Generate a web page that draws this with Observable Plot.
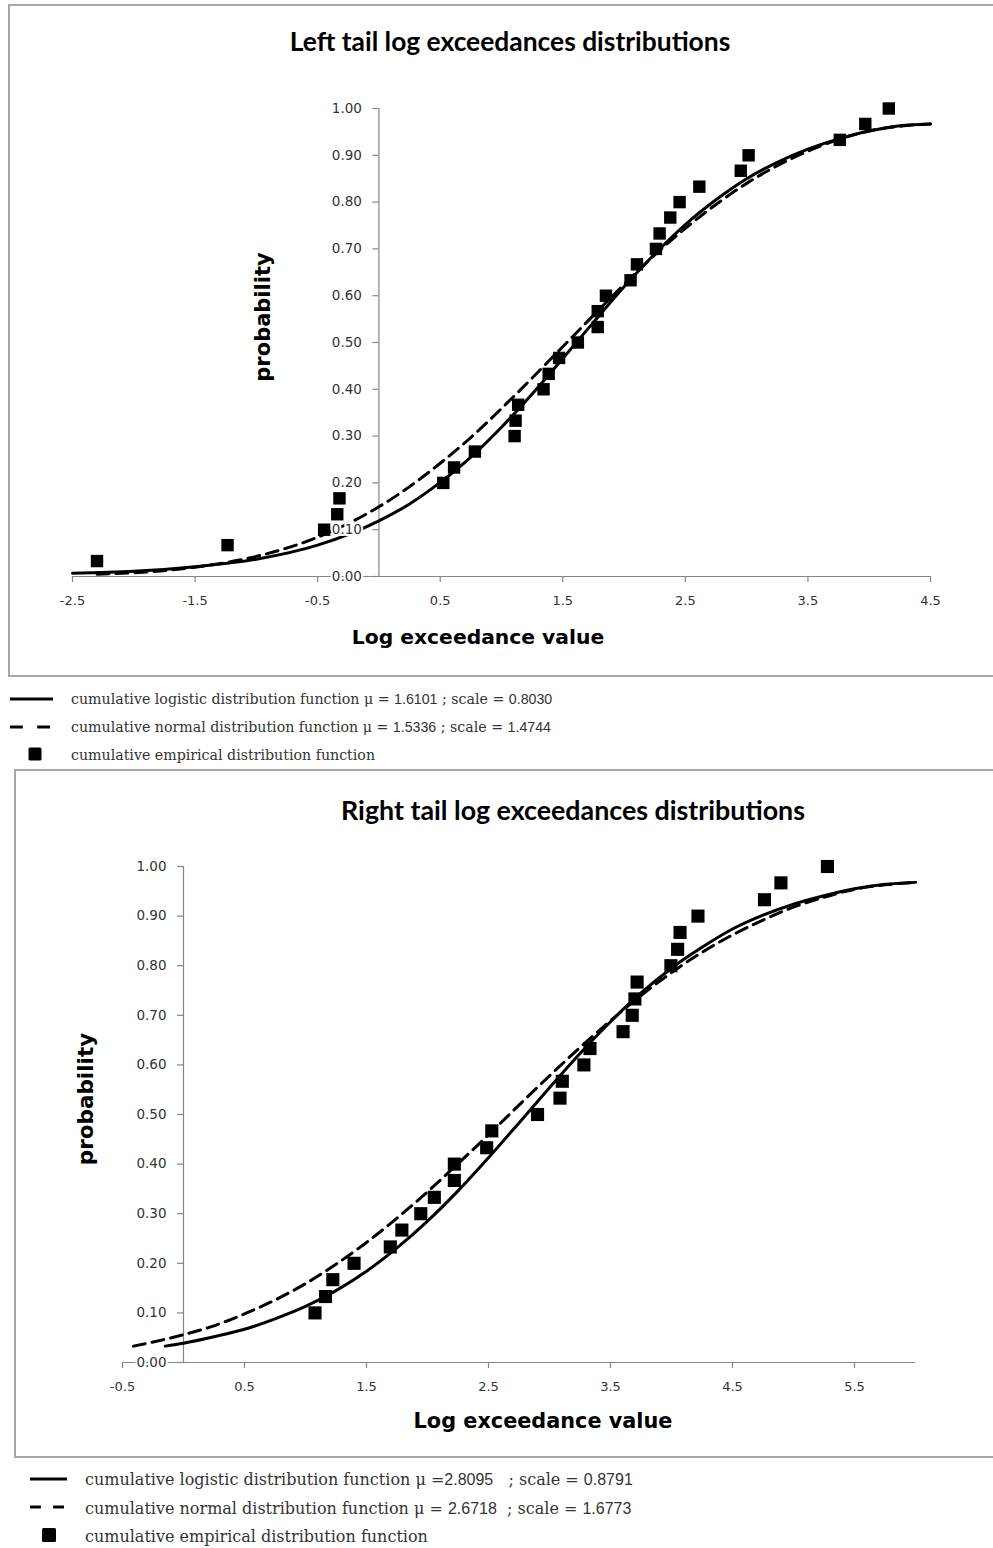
<!DOCTYPE html>
<html>
<head>
<meta charset="utf-8">
<script src="https://cdn.jsdelivr.net/npm/d3@7"></script>
<script src="https://cdn.jsdelivr.net/npm/@observablehq/plot@0.6"></script>
<style>
  html, body { margin: 0; padding: 0; background: #fff; }
  #wrap { position: relative; width: 993px; height: 1548px; overflow: hidden; background: #fff; }
  .plot { position: absolute; left: 0; }
  .box { position: absolute; border: 2px solid #a8a8a8; border-right: none; box-sizing: border-box; }
  .title { position: absolute; transform: translate(-50%, -50%); font-family: Lato, "Open Sans", sans-serif; font-weight: 700; color: #000; white-space: nowrap; line-height: 1; }
  .axlab { position: absolute; transform: translate(-50%, -50%); font-family: "DejaVu Sans", Verdana, sans-serif; font-weight: 700; color: #000; white-space: nowrap; line-height: 1; }
  .ylab { transform: translate(-50%, -50%) rotate(-90deg); }
  .leg { position: absolute; transform: translateY(-50%); font-family: "DejaVu Serif", serif; color: #333; white-space: pre; line-height: 1; }
  .leg .n { font-family: "Liberation Sans", Arial, sans-serif; }
  .sym { position: absolute; }
</style>
</head>
<body>
<div id="wrap"></div>
<script>
// ---------------- data ----------------
const probTicks = [0.00, 0.10, 0.20, 0.30, 0.40, 0.50, 0.60, 0.70, 0.80, 0.90, 1.00];
const leftTicksX = [-2.5, -1.5, -0.5, 0.5, 1.5, 2.5, 3.5, 4.5];
const rightTicksX = [-0.5, 0.5, 1.5, 2.5, 3.5, 4.5, 5.5];

// Left tail: empirical CDF points
const leftEmpX = [-2.30, -1.235, -0.447, -0.340, -0.322, 0.525, 0.613, 0.783, 1.107, 1.115,
  1.136, 1.343, 1.385, 1.470, 1.623, 1.785, 1.785, 1.852, 2.053, 2.105,
  2.260, 2.290, 2.377, 2.453, 2.614, 2.952, 3.016, 3.760, 3.968, 4.160];
const leftEmpP = [0.033, 0.067, 0.100, 0.133, 0.167, 0.200, 0.233, 0.267, 0.300, 0.333,
  0.367, 0.400, 0.433, 0.467, 0.500, 0.533, 0.567, 0.600, 0.633, 0.667,
  0.700, 0.733, 0.767, 0.800, 0.833, 0.867, 0.900, 0.933, 0.967, 1.000];

// Left tail: logistic curve (solid)
const leftLogX = [-2.5, -2, -1.5, -1, -0.5, 0, 0.25, 0.5, 0.75, 1, 1.25, 1.5, 1.75, 2, 2.25, 2.5, 2.75, 3, 3.25, 3.5, 3.75, 4, 4.25, 4.5];
const leftLogP = [0.007, 0.011, 0.021, 0.037, 0.067, 0.119, 0.155, 0.201, 0.255, 0.319, 0.390, 0.466, 0.543, 0.619, 0.689, 0.752, 0.805, 0.850, 0.885, 0.913, 0.935, 0.952, 0.963, 0.967];
// Left tail: normal curve (dashed)
const leftNormX = [-2.3, -2, -1.5, -1, -0.5, 0, 0.25, 0.5, 0.75, 1, 1.25, 1.5, 1.75, 2, 2.25, 2.5, 2.75, 3, 3.25, 3.5, 3.75, 4, 4.25, 4.5];
const leftNormP = [0.005, 0.008, 0.020, 0.043, 0.084, 0.149, 0.192, 0.242, 0.297, 0.359, 0.424, 0.491, 0.558, 0.624, 0.687, 0.744, 0.795, 0.840, 0.878, 0.909, 0.934, 0.952, 0.962, 0.967];

// Right tail: empirical CDF points
const rightEmpX = [1.078, 1.164, 1.224, 1.398, 1.695, 1.790, 1.945, 2.056, 2.220, 2.220,
  2.485, 2.527, 2.902, 3.086, 3.105, 3.282, 3.332, 3.603, 3.678, 3.700,
  3.718, 3.995, 4.050, 4.070, 4.217, 4.762, 4.897, 5.278];
const rightEmpP = [0.100, 0.133, 0.167, 0.200, 0.233, 0.267, 0.300, 0.333, 0.367, 0.400,
  0.433, 0.467, 0.500, 0.533, 0.567, 0.600, 0.633, 0.667, 0.700, 0.733,
  0.767, 0.800, 0.833, 0.867, 0.900, 0.933, 0.967, 1.000];

// Right tail: logistic curve (solid)
const rightLogX = [-0.15, 0, 0.25, 0.5, 0.75, 1, 1.25, 1.5, 1.75, 2, 2.25, 2.5, 2.75, 3, 3.25, 3.5, 3.75, 4, 4.25, 4.5, 4.75, 5, 5.25, 5.5, 5.75, 6];
const rightLogP = [0.033, 0.039, 0.052, 0.067, 0.088, 0.113, 0.145, 0.184, 0.231, 0.285, 0.346, 0.413, 0.483, 0.554, 0.623, 0.687, 0.745, 0.795, 0.837, 0.874, 0.902, 0.924, 0.941, 0.955, 0.964, 0.968];
// Right tail: normal curve (dashed)
const rightNormX = [-0.41, 0, 0.25, 0.5, 0.75, 1, 1.25, 1.5, 1.75, 2, 2.25, 2.5, 2.75, 3, 3.25, 3.5, 3.75, 4, 4.25, 4.5, 4.75, 5, 5.25, 5.5, 5.75, 6];
const rightNormP = [0.033, 0.056, 0.074, 0.098, 0.126, 0.159, 0.198, 0.242, 0.291, 0.344, 0.401, 0.459, 0.519, 0.578, 0.635, 0.689, 0.740, 0.786, 0.827, 0.862, 0.892, 0.918, 0.938, 0.954, 0.963, 0.968];

// ---------------- helpers ----------------
const zip = (xs, ps) => xs.map((x, i) => ({x, p: ps[i]}));
const AX = "#868686";

function chart({xDomain, xTicks, emp, logi, norm, width, height, mt, mb, ml, mr, r}) {
  return Plot.plot({
    width, height,
    marginTop: mt, marginBottom: mb, marginLeft: ml, marginRight: mr,
    style: {background: "transparent"},
    x: {domain: xDomain, axis: null},
    y: {domain: [0, 1], axis: null},
    marks: [
      Plot.ruleY([0], {stroke: AX, strokeWidth: 1.2}),
      Plot.ruleX([0], {stroke: AX, strokeWidth: 1.2}),
      Plot.ruleX(xTicks, {x: d => d, y1: 0, y2: 0, insetBottom: -6, stroke: AX, strokeWidth: 1.2}),
      Plot.ruleY(probTicks, {y: d => d, x1: 0, x2: 0, insetLeft: -6, stroke: AX, strokeWidth: 1.2}),
      Plot.line(norm, {x: "x", y: "p", stroke: "#000", strokeWidth: 3, strokeDasharray: "12,7", curve: "monotone-x"}),
      Plot.line(logi, {x: "x", y: "p", stroke: "#000", strokeWidth: 3, curve: "monotone-x"}),
      Plot.text(xTicks, {x: d => d, y: 0, text: d => d.toFixed(1), dy: 24, fontSize: 13, fontFamily: "DejaVu Sans", fill: "#333"}),
      Plot.text(probTicks, {x: 0, y: d => d, text: d => d.toFixed(2), textAnchor: "end", dx: -17, fontSize: 13.5, fontFamily: "DejaVu Sans", fill: "#333", stroke: "white", strokeWidth: 4, paintOrder: "stroke"}),
      Plot.dot(emp, {x: "x", y: "p", symbol: "square", r, fill: "#000", stroke: null})
    ]
  });
}

const wrap = document.getElementById("wrap");

// top chart: SVG at top 0
const topSvg = chart({
  xDomain: [-2.5, 4.5], xTicks: leftTicksX,
  emp: zip(leftEmpX, leftEmpP), logi: zip(leftLogX, leftLogP), norm: zip(leftNormX, leftNormP),
  width: 993, height: 690, mt: 108, mb: 114, ml: 72, mr: 63, r: 7.0
});
topSvg.classList.add("plot");
topSvg.style.top = "0px";
wrap.appendChild(topSvg);

// bottom chart: SVG at top 760
const botSvg = chart({
  xDomain: [-0.5, 6.0], xTicks: rightTicksX,
  emp: zip(rightEmpX, rightEmpP), logi: zip(rightLogX, rightLogP), norm: zip(rightNormX, rightNormP),
  width: 993, height: 700, mt: 106, mb: 98, ml: 122, mr: 78, r: 7.4
});
botSvg.classList.add("plot");
botSvg.style.top = "760px";
wrap.appendChild(botSvg);

// ---------------- text, boxes, legends ----------------
function el(tag, cls, css, html) {
  const e = document.createElement(tag);
  if (cls) e.className = cls;
  Object.assign(e.style, css);
  if (html != null) e.innerHTML = html;
  wrap.appendChild(e);
  return e;
}

el("div", "box", {left: "8px", top: "4px", width: "1000px", height: "673px"});
el("div", "box", {left: "14px", top: "769px", width: "1000px", height: "689px"});

el("div", "title", {left: "510px", top: "41px", fontSize: "26.4px"}, "Left tail log exceedances distributions");
el("div", "title", {left: "573px", top: "810px", fontSize: "26.8px"}, "Right tail log exceedances distributions");

el("div", "axlab ylab", {left: "263px", top: "317px", fontSize: "21px"}, "probability");
el("div", "axlab ylab", {left: "86px", top: "1099px", fontSize: "21.5px"}, "probability");
el("div", "axlab", {left: "478px", top: "637px", fontSize: "20.3px"}, "Log exceedance value");
el("div", "axlab", {left: "543px", top: "1421px", fontSize: "20.8px"}, "Log exceedance value");

function symbol(kind, x0, x1, y, sq) {
  const w = x1 - x0 + 4, h = 20;
  let inner = "";
  if (kind === "solid") inner = `<line x1="2" x2="${w - 2}" y1="10" y2="10" stroke="#000" stroke-width="3"/>`;
  if (kind === "dash") {
    const seg = (w - 4) * 0.32;
    inner = `<line x1="2" x2="${2 + seg}" y1="10" y2="10" stroke="#000" stroke-width="3"/>` +
            `<line x1="${w - 2 - seg}" x2="${w - 2}" y1="10" y2="10" stroke="#000" stroke-width="3"/>`;
  }
  if (kind === "square") inner = `<rect x="${(w - sq) / 2}" y="${10 - sq / 2}" width="${sq}" height="${sq}" rx="1.5" fill="#000"/>`;
  el("div", "sym", {left: (x0 - 2) + "px", top: (y - 10) + "px", width: w + "px", height: h + "px"},
     `<svg width="${w}" height="${h}">${inner}</svg>`);
}

// top legend
symbol("solid", 10, 53, 699);
symbol("dash", 10, 50, 727);
symbol("square", 28, 42, 754, 13);
el("div", "leg", {left: "71px", top: "699px", fontSize: "14.2px"},
   'cumulative logistic distribution function μ = <span class="n">1.6101</span> ; scale = <span class="n">0.8030</span>');
el("div", "leg", {left: "71px", top: "727px", fontSize: "14.2px"},
   'cumulative normal distribution function μ = <span class="n">1.5336</span> ; scale = <span class="n">1.4744</span>');
el("div", "leg", {left: "71px", top: "755px", fontSize: "14.2px"},
   'cumulative empirical distribution function');

// bottom legend
symbol("solid", 30, 67, 1479);
symbol("dash", 30, 64, 1507);
symbol("square", 42, 56, 1535, 14);
el("div", "leg", {left: "85px", top: "1480px", fontSize: "16px"},
   'cumulative logistic distribution function μ =<span class="n">2.8095</span>   ; scale = <span class="n">0.8791</span>');
el("div", "leg", {left: "85px", top: "1509px", fontSize: "16px"},
   'cumulative normal distribution function μ = <span class="n">2.6718</span>  ; scale = <span class="n">1.6773</span>');
el("div", "leg", {left: "85px", top: "1537px", fontSize: "16px"},
   'cumulative empirical distribution function');
</script>
</body>
</html>
